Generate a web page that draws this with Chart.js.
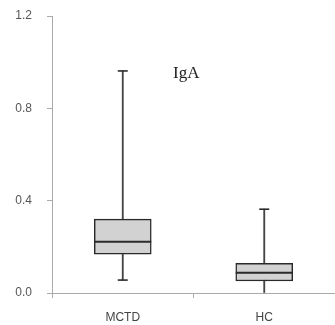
<!DOCTYPE html>
<html>
<head>
<meta charset="utf-8">
<script src="https://cdn.jsdelivr.net/npm/chart.js@4/dist/chart.umd.min.js"></script>
<style>
    body { margin: 0; background: #fff; }
</style>
</head>
<body>
<canvas id="chart" width="335" height="325"></canvas>
<script>
// box plot values
const categories = ['MCTD', 'HC'];
const whiskerMin = [0.056, 0.0];
const q1 = [0.168, 0.052];
const median = [0.222, 0.088];
const q3 = [0.32, 0.129];
const whiskerMax = [0.962, 0.363];
const yTicks = [0, 0.4, 0.8, 1.2];

const boxes = categories.map((c, i) => [q1[i], q3[i]]);
const whiskers = categories.map((c, i) => [whiskerMin[i], whiskerMax[i]]);

//median lines, whisker caps and the "IgA" label
const boxExtras = {
    id: 'boxExtras',
    afterDatasetsDraw(chart) {
        const ctx = chart.ctx;
        const x = chart.scales.x;
        const y = chart.scales.y;
        const boxW = 57, capW = 10;
        ctx.save();
        ctx.strokeStyle = '#2a2a2a';
        for (let i = 0; i < categories.length; i++) {
            const cx = x.getPixelForValue(i);
            ctx.lineWidth = 2;
            ctx.beginPath();
            ctx.moveTo(cx - boxW / 2, y.getPixelForValue(median[i]));
            ctx.lineTo(cx + boxW / 2, y.getPixelForValue(median[i]));
            ctx.stroke();
            ctx.lineWidth = 1.6;
            [whiskerMin[i], whiskerMax[i]].forEach(v => {
                if (v <= y.min) return; // sits on the axis, no cap visible
                ctx.beginPath();
                ctx.moveTo(cx - capW / 2, y.getPixelForValue(v));
                ctx.lineTo(cx + capW / 2, y.getPixelForValue(v));
                ctx.stroke();
            });
        }
        ctx.fillStyle = '#222';
        ctx.font = '17px "Liberation Serif", serif';
        ctx.textAlign = 'left';
        ctx.textBaseline = 'middle';
        ctx.fillText('IgA', 173, 74);
        ctx.restore();
    }
};

new Chart(document.getElementById('chart').getContext('2d'), {
    type: 'bar',
    data: {
        labels: categories,
        datasets: [{
            data: boxes,
            backgroundColor: '#d2d2d2',
            borderColor: '#2a2a2a',
            borderWidth: 1.5,
            borderSkipped: false,
            barThickness: 57,
            grouped: false
        }, {
            data: whiskers,
            backgroundColor: '#444',
            borderWidth: 0,
            barThickness: 1.2,
            grouped: false
        }]
    },
    options: {
        responsive: false,
        animation: false,
        layout: {padding: {top: 16, right: 0, left: 0, bottom: 0}},
        plugins: {legend: {display: false}, tooltip: {enabled: false}, title: {display: false}},
        scales: {
            x: {
                grid: {display: true, drawOnChartArea: false, drawTicks: true, tickLength: 5, color: '#aaa', offset: true},
                border: {display: true, color: '#aaa', width: 1},
                ticks: {color: '#444', padding: 12, font: {family: '"Liberation Sans", sans-serif', size: 12}},
                afterFit(scale) { scale.height = 32; scale.paddingLeft = 0; scale.paddingRight = 0; }
            },
            y: {
                min: 0,
                max: 1.2,
                afterBuildTicks(scale) { scale.ticks = yTicks.map(v => ({value: v})); },
                grid: {display: true, drawOnChartArea: false, drawTicks: true, tickLength: 5, color: '#aaa'},
                border: {display: true, color: '#aaa', width: 1},
                ticks: {
                    color: '#555',
                    padding: 15,
                    font: {family: '"Liberation Sans", sans-serif', size: 12},
                    callback: v => Number(v).toFixed(1)
                },
                afterFit(scale) { scale.width = 52; scale.paddingTop = 0; scale.paddingBottom = 0; }
            }
        }
    },
    plugins: [boxExtras]
});
</script>
</body>
</html>
